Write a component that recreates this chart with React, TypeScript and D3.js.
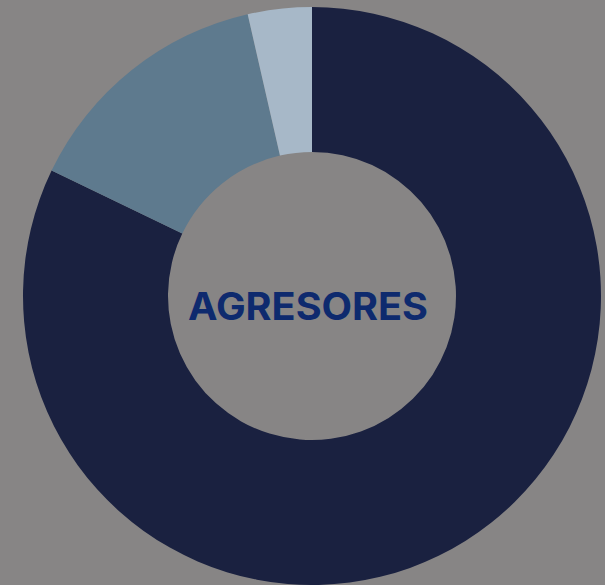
import React from "react";
import * as d3 from "d3";

const categories = ["Categoría A", "Categoría B", "Categoría C"];
const values = [23, 4, 1];
const colors = ["#1a2140", "#5e7a8e", "#a7b8c8"];
const title = "AGRESORES";

const W = 605;
const H = 585;

export default function App() {
  const cx = 312;
  const cy = 296;
  const outerR = 289;
  const innerR = 144;
  const data = categories.map((c, i) => ({ c, v: values[i], color: colors[i] }));
  const pie = d3
    .pie<{ c: string; v: number; color: string }>()
    .value((d) => d.v)
    .sort(null)
    .startAngle(0)
    .endAngle(2 * Math.PI);
  const arc = d3
    .arc<d3.PieArcDatum<{ c: string; v: number; color: string }>>()
    .innerRadius(innerR)
    .outerRadius(outerR);
  const arcs = pie(data);
  return (
    <svg
      width={W}
      height={H}
      style={{ position: "absolute", left: 0, top: 0, display: "block" }}
    >
      <rect x={0} y={0} width={W} height={H} fill="#878585" />
      <g transform={`translate(${cx},${cy})`}>
        {arcs.map((a, i) => (
          <path key={i} d={arc(a) || ""} fill={a.data.color} />
        ))}
        <text
          x={-4}
          y={14}
          textAnchor="middle"
          dominantBaseline="middle"
          fontFamily="Inter, 'Open Sans', sans-serif"
          fontWeight={700}
          fontSize={38}
          fill="#0e2a6e"
          textLength={240}
          lengthAdjust="spacingAndGlyphs"
        >
          {title}
        </text>
      </g>
    </svg>
  );
}
